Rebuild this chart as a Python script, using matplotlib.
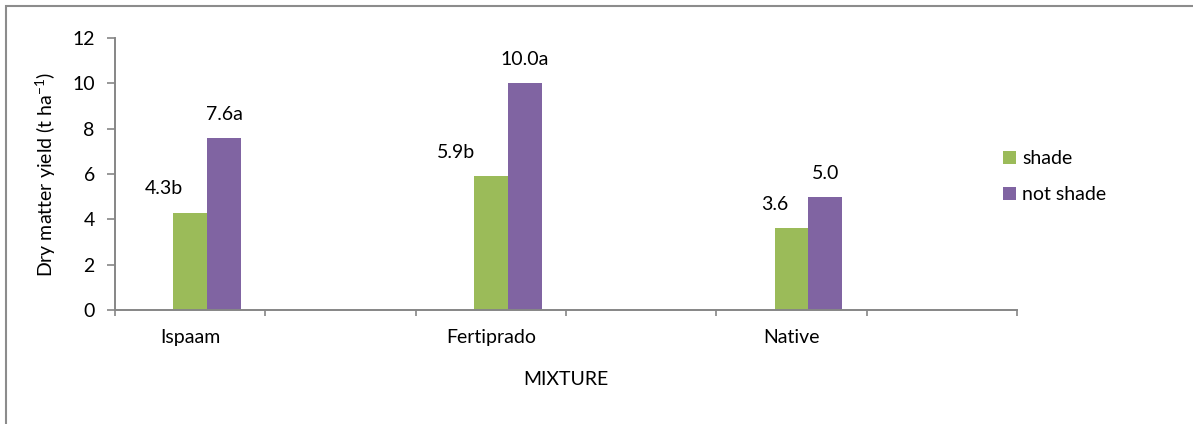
import matplotlib
matplotlib.use("Agg")
import matplotlib.pyplot as plt
from matplotlib.patches import Rectangle

plt.rcParams['font.family'] = ['Lato', 'DejaVu Sans']
plt.rcParams['mathtext.fontset'] = 'custom'
plt.rcParams['mathtext.rm'] = 'Lato'

# Dry matter yield per mixture
mixtures = ['Ispaam', 'Fertiprado', 'Native']
shade = [4.3, 5.9, 3.6]
not_shade = [7.6, 10.0, 5.0]
shade_labels = ['4.3b', '5.9b', '3.6']
not_shade_labels = ['7.6a', '10.0a', '5.0']
series_names = ['shade', 'not shade']

green = '#9BBB59'
purple = '#8064A2'
axis_grey = '#868686'
fs = 14

fig = plt.figure(figsize=(11.93, 4.24), dpi=100)
ax = fig.add_axes([115 / 1193, 1 - 310 / 424, (1017 - 115) / 1193, (310 - 38) / 424])

# the category axis has six slots, the mixtures sit in every other one
pos = [0, 2, 4]
w = 0.225
ax.bar(pos, shade, width=w, color=green, label=series_names[0])
ax.bar([p + w for p in pos], not_shade, width=w, color=purple, label=series_names[1])

# value labels above the bars (shade labels were nudged left)
shade_dx = [-19, -25, -12]
for p, v, t, dx in zip(pos, shade, shade_labels, shade_dx):
    ax.annotate(t, (p, v), xytext=(dx, 17), textcoords='offset points',
                ha='center', va='center', fontsize=fs)
for p, v, t in zip(pos, not_shade, not_shade_labels):
    ax.annotate(t, (p + w, v), xytext=(0, 17), textcoords='offset points',
                ha='center', va='center', fontsize=fs)

ax.set_xlim(-0.5, 5.5)
ax.set_ylim(0, 12)
ax.set_yticks(range(0, 13, 2))
ax.set_xticks([i - 0.5 for i in range(7)])
ax.set_xticklabels([])
ax.set_xticks(pos, minor=True)
ax.set_xticklabels(mixtures, minor=True, fontsize=fs)
ax.tick_params(axis='x', which='minor', length=0, pad=14)
ax.tick_params(axis='x', which='major', direction='out', length=4.5, width=1.2, color=axis_grey)
ax.tick_params(axis='y', direction='out', length=5.5, width=1.2, color=axis_grey, labelsize=fs, pad=9)

for s in ['top', 'right']:
    ax.spines[s].set_visible(False)
for s in ['left', 'bottom']:
    ax.spines[s].set_color(axis_grey)
    ax.spines[s].set_linewidth(1.4)

ax.set_ylabel(r'Dry matter yield (t ha$^{-1}$)', fontsize=fs, labelpad=10)
ax.set_xlabel('MIXTURE', fontsize=fs, labelpad=18)

fig.legend(loc='upper left', bbox_to_anchor=(1003 / 1193, 1 - 150 / 424), frameon=False,
           fontsize=fs, handlelength=0.68, handleheight=0.68, handletextpad=0.3,
           labelspacing=1.0, borderpad=0, borderaxespad=0)

# chart area border, running off the right and bottom edges
fig.patches.append(Rectangle((6 / 1193, -0.1), 1.2, 1 - 6 / 424 + 0.1, transform=fig.transFigure,
                             fill=False, edgecolor='#8c8c8c', linewidth=1.5))

fig.savefig('out.png', dpi=100)
